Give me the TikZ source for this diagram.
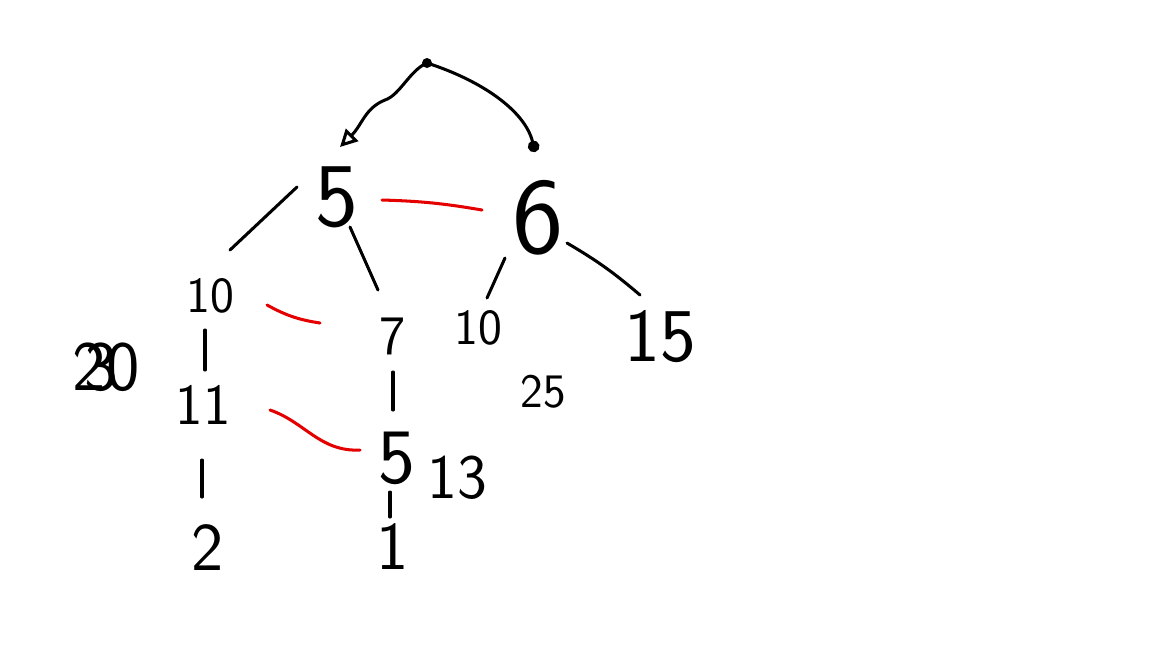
\documentclass[tikz,border=0pt]{standalone}
\usetikzlibrary{arrows.meta}

\tikzset{
  num/.style={inner sep=0pt, font=\sffamily\fontsize{#1}{#1}\selectfont},
  tie/.style={line width=1.2pt, red!90!black, line cap=round},
}

\begin{document}
\begin{tikzpicture}[x=0.01389cm,y=-0.01389cm,line width=1.2pt,line cap=round]
\useasboundingbox (0,0) rectangle (1152,648);

 % the two roots
 \node[num=36] (r5) at (337,197) {5};
 \node[num=43] (r6) at (538,218) {6};

 % their children
 \node[num=20] (a10) at (210,296) {10};
 \node[num=22] (b7) at (393,336) {7};
 \node[num=20] (c10) at (478,328) {10};
 \node[num=30] (d15) at (660,337) {15};
 \node[num=23] (e11) at (203,405) {11};
 \node[num=31] (f5) at (397,458) {5};
 \node[num=27] (g2) at (208,548) {2};
 \node[num=27] (h1) at (393,547) {1};

 % side numbers
 \node[num=28] (s23) at (106,367) {2\rlap{\kern-0.3em 3}0};
 \node[num=19] (s25) at (543,392) {25};
 \node[num=25] (s13) at (457,478) {13};

 % tree edges
 \draw ([shift={(-40,-10)}]r5.center) -- ([shift={(20,-46)}]a10.center);
 \draw ([shift={(13,30)}]r5.center) -- ([shift={(-15,-46)}]b7.center);
 \draw ([shift={(-33,40)}]r6.center) -- ([shift={(9,-30)}]c10.center);
 \draw ([shift={(29,25)}]r6.center) to[bend left=5] ([shift={(-20,-42)}]d15.center);
 \draw ([shift={(-5,34)}]a10.center) -- ([shift={(2,-35)}]e11.center);
 \draw ([shift={(-1,55)}]e11.center) -- ([shift={(-6,-51)}]g2.center);
 \draw ([shift={(0,36)}]b7.center) -- ([shift={(-4,-48)}]f5.center);
 \draw ([shift={(-7,34)}]f5.center) -- ([shift={(-3,-30)}]h1.center);

 % red links
 \draw[tie] ([shift={(45,3)}]r5.center) to[bend left=4] ([shift={(-56,-8)}]r6.center);
 \draw[tie] ([shift={(57,9)}]a10.center) to[bend right=10] ([shift={(-73,-13)}]b7.center);
 \draw[tie] ([shift={(67,5)}]e11.center) .. controls (305,422) and (320,452) .. ([shift={(-37,-8)}]f5.center);

 % arc over the roots
 \coordinate (top) at (427,63);
 \draw[{Triangle[open,length=2.4mm,width=2.4mm]}-]
   ([shift={(3,-50)}]r5.center) .. controls (362,125) and (365,108) .. (385,100)
   .. controls (400,95) and (410,70) .. (top);
 \draw[-{Circle[length=1.6mm]}] (top) .. controls (480,80) and (525,110) .. ([shift={(-3,-66)}]r6.center);
 \fill (top) circle (5);
\end{tikzpicture}
\end{document}
